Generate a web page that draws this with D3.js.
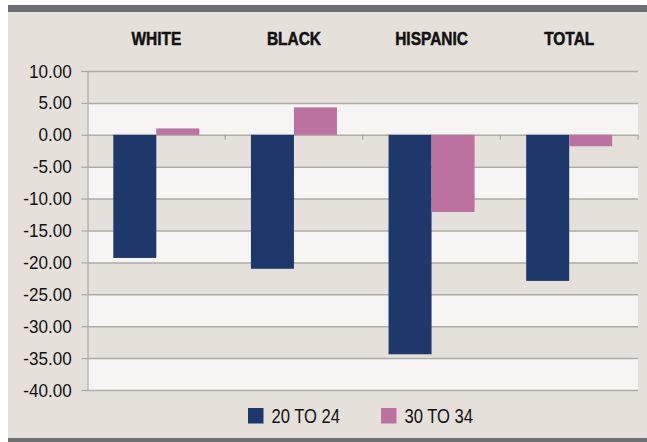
<!DOCTYPE html>
<html>
<head>
<meta charset="utf-8">
<script src="https://cdn.jsdelivr.net/npm/d3@7"></script>
<style>
  body { margin: 0; background: #fff; }
  svg { display: block; font-family: "Liberation Sans", Arial, sans-serif; }
</style>
</head>
<body>
<svg id="chart" width="647" height="442"></svg>
<script>
// chart values
const categories = ["WHITE", "BLACK", "HISPANIC", "TOTAL"];
const seriesNames = ["20 TO 24", "30 TO 34"];
const age20to24 = [-19.3, -21.0, -34.4, -22.9];
const age30to34 = [1.0, 4.3, -12.1, -1.8];
const yTicks = [10, 5, 0, -5, -10, -15, -20, -25, -30, -35, -40];
const seriesColors = ["#1f386c", "#bb72a1"];

const svg = d3.select('#chart');
const width = +svg.attr('width');
const height = +svg.attr('height');

const plot = { left: 87.5, right: 638, top: 71, bottom: 390 };

// frame: beige panel with dark bars top and bottom
svg.append('rect')
  .attr('x', 8).attr('y', 5)
  .attr('width', width - 8).attr('height', height - 5)
  .attr('fill', '#e6e0db');
svg.append('rect')
  .attr('x', 8).attr('y', 5)
  .attr('width', width - 8).attr('height', 7)
  .attr('fill', '#6e6f73');
svg.append('rect')
  .attr('x', 8).attr('y', 438)
  .attr('width', width - 8).attr('height', 4)
  .attr('fill', '#6e6f73');

const x = d3.scaleBand()
  .domain(categories)
  .range([plot.left, plot.right]);

const xSub = d3.scaleBand()
  .domain(seriesNames)
  .range([0, x.bandwidth()])
  .paddingInner(0)
  .paddingOuter(0.6);

const y = d3.scaleLinear()
  .domain([-40, 10])
  .range([plot.bottom, plot.top]);

// alternating light bands
const bandPairs = d3.pairs(yTicks).filter((d, i) => i % 2 === 1);
svg.append('g').selectAll('rect').data(bandPairs)
  .enter().append('rect')
    .attr('x', plot.left)
    .attr('y', d => y(d[0]))
    .attr('width', plot.right - plot.left)
    .attr('height', d => y(d[1]) - y(d[0]))
    .attr('fill', '#f6f5f3');

// gridlines + y axis (labels squeezed to look condensed, plain hyphen minus)
const yAxis = d3.axisLeft(y)
  .tickValues(yTicks)
  .tickFormat(d => d.toFixed(2))
  .tickSize(6)
  .tickPadding(11.6);

const yg = svg.append('g')
  .attr('transform', `translate(${plot.left},0)`)
  .call(yAxis);
yg.select('.domain').attr('stroke', '#aaa6a2').attr('stroke-width', 1.2);
yg.selectAll('.tick line').attr('stroke', '#aaa6a2').attr('stroke-width', 1.2);
yg.selectAll('.tick text')
  .attr('font-size', 19)
  .attr('fill', '#111')
  .attr('font-family', '"Liberation Sans", Arial, sans-serif')
  .attr('transform', 'scale(0.9,1)');

yg.selectAll('.tick').append('line')
  .attr('x1', 0).attr('x2', plot.right - plot.left)
  .attr('stroke', '#b0aca8')
  .attr('stroke-width', 1.5);

// bars
const rows = categories.map((c, i) => ({ category: c, values: [age20to24[i], age30to34[i]] }));

const groups = svg.append('g').selectAll('g').data(rows)
  .enter().append('g')
    .attr('transform', d => `translate(${x(d.category)},0)`);

groups.selectAll('rect')
  .data(d => d.values.map((v, i) => ({ key: seriesNames[i], value: v, color: seriesColors[i] })))
  .enter().append('rect')
    .attr('x', d => xSub(d.key))
    .attr('y', d => y(Math.max(0, d.value)))
    .attr('width', xSub.bandwidth())
    .attr('height', d => Math.abs(y(d.value) - y(0)))
    .attr('fill', d => d.color);

// zero-line category ticks
const xg = svg.append('g')
  .attr('transform', `translate(0,${y(0)})`);
xg.selectAll('line.cat').data(categories.slice(1).concat(['end']))
  .enter().append('line')
    .attr('class', 'cat')
    .attr('x1', d => d === 'end' ? plot.right : x(d))
    .attr('x2', d => d === 'end' ? plot.right : x(d))
    .attr('y1', 0).attr('y2', 5)
    .attr('stroke', '#aaa6a2')
    .attr('stroke-width', 1.2);

// category labels on top
svg.append('g').selectAll('text').data(categories)
  .enter().append('text')
    .attr('transform', d => `translate(${x(d) + x.bandwidth() / 2},44.5) scale(0.86,1)`)
    .attr('text-anchor', 'middle')
    .attr('font-size', 18)
    .attr('font-weight', 'bold')
    .attr('fill', '#111')
    .attr('stroke', '#111')
    .attr('stroke-width', 0.5)
    .text(d => d);

// legend
const legendX = [248, 381];
const legend = svg.append('g').selectAll('g').data(seriesNames)
  .enter().append('g')
    .attr('transform', (d, i) => `translate(${legendX[i]},408)`);
legend.append('rect')
  .attr('width', 15.5).attr('height', 15.5)
  .attr('fill', (d, i) => seriesColors[i]);
legend.append('text')
  .attr('transform', 'translate(23.5,15) scale(0.83,1)')
  .attr('font-size', 20)
  .attr('fill', '#111')
  .text(d => d);
</script>
</body>
</html>
